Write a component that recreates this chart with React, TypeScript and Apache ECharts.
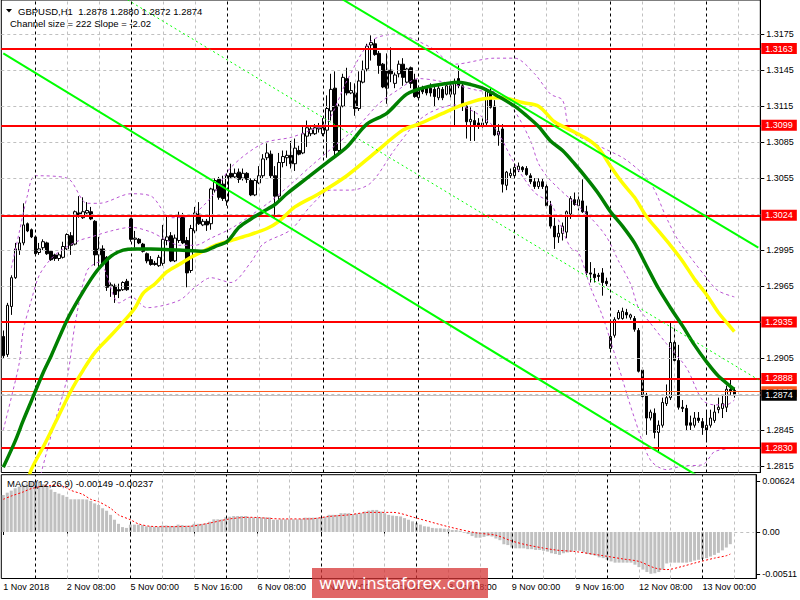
import React, { useEffect, useRef } from "react";
import * as echarts from "echarts";

// ---------- DATA ----------
const opens = [
  1.2923, 1.2908, 1.2948, 1.2972, 1.2995, 1.3001, 1.3017, 1.3012, 1.3006, 1.2993,
  1.2997, 1.3001, 1.2994, 1.2991, 1.2988, 1.2989, 1.2996, 1.3007, 1.3000, 1.3026,
  1.3022, 1.3026, 1.3027, 1.3019, 1.2991, 1.2996, 1.2989, 1.2965, 1.2965, 1.2962,
  1.2962, 1.2969, 1.3021, 1.3004, 1.3004, 1.3000, 1.2992, 1.2987, 1.2984, 1.2982,
  1.2984, 1.3003, 1.3007, 1.2986, 1.3003, 1.3023, 1.3003, 1.2978, 1.3011, 1.3025,
  1.3016, 1.3019, 1.3017, 1.3045, 1.3054, 1.3050, 1.3036, 1.3059, 1.3056, 1.3060,
  1.3055, 1.3059, 1.3053, 1.3041, 1.3051, 1.3057, 1.3072, 1.3075, 1.3057, 1.3040,
  1.3068, 1.3072, 1.3074, 1.3067, 1.3078, 1.3076, 1.3090, 1.3092, 1.3092, 1.3096,
  1.3092, 1.3095, 1.3111, 1.3130, 1.3078, 1.3115, 1.3138, 1.3126, 1.3126, 1.3113,
  1.3135, 1.3146, 1.3166, 1.3167, 1.3159, 1.3150, 1.3145, 1.3145, 1.3134, 1.3142,
  1.3150, 1.3135, 1.3147, 1.3137, 1.3122, 1.3130, 1.3130, 1.3130, 1.3129, 1.3122,
  1.3129, 1.3125, 1.3132, 1.3125, 1.3138, 1.3132, 1.3115, 1.3102, 1.3103, 1.3101,
  1.3098, 1.3101, 1.3127, 1.3115, 1.3091, 1.3096, 1.3049, 1.3057, 1.3057, 1.3062,
  1.3064, 1.3063, 1.3057, 1.3052, 1.3048, 1.3052, 1.3048, 1.3032, 1.3015, 1.3006,
  1.3009, 1.3010, 1.3025, 1.3037, 1.3032, 1.3036, 1.3027, 1.2976, 1.2975, 1.2974,
  1.2976, 1.2969, 1.2913, 1.2924, 1.2938, 1.2938, 1.2943, 1.2939, 1.2938, 1.2928,
  1.2895, 1.2874, 1.2855, 1.2859, 1.2843, 1.2849, 1.2867, 1.2872, 1.2918, 1.2903,
  1.2864, 1.2863, 1.2851, 1.2849, 1.2855, 1.2852, 1.2845, 1.2849, 1.2853, 1.2862,
  1.2863, 1.2864, 1.2879, 1.2878,
];
const highs = [
  1.2928, 1.2951, 1.2974, 1.3001, 1.3006, 1.3034, 1.3018, 1.3013, 1.3007, 1.3001,
  1.3004, 1.3002, 1.2995, 1.2992, 1.2993, 1.3002, 1.3009, 1.3010, 1.3028, 1.3040,
  1.3039, 1.3035, 1.3031, 1.3020, 1.3006, 1.2999, 1.2990, 1.2968, 1.2967, 1.2967,
  1.2969, 1.2971, 1.3022, 1.3011, 1.3005, 1.3001, 1.2993, 1.2990, 1.2986, 1.2991,
  1.3016, 1.3024, 1.3010, 1.3008, 1.3027, 1.3026, 1.3006, 1.3016, 1.3031, 1.3035,
  1.3021, 1.3021, 1.3047, 1.3055, 1.3056, 1.3057, 1.3059, 1.3067, 1.3063, 1.3063,
  1.3063, 1.3060, 1.3055, 1.3055, 1.3065, 1.3075, 1.3084, 1.3078, 1.3065, 1.3076,
  1.3078, 1.3078, 1.3086, 1.3088, 1.3082, 1.3098, 1.3103, 1.3099, 1.3100, 1.3101,
  1.3105, 1.3124, 1.3142, 1.3144, 1.3117, 1.3142, 1.3147, 1.3135, 1.3134, 1.3144,
  1.3153, 1.3167, 1.3174, 1.3171, 1.3161, 1.3151, 1.3159, 1.3164, 1.3143, 1.3153,
  1.3155, 1.3147, 1.3148, 1.3142, 1.3132, 1.3132, 1.3131, 1.3134, 1.3132, 1.3134,
  1.3131, 1.3134, 1.3136, 1.3138, 1.3149, 1.3136, 1.3117, 1.3114, 1.3111, 1.3105,
  1.3105, 1.3130, 1.3130, 1.3120, 1.3100, 1.3100, 1.3061, 1.3063, 1.3067, 1.3068,
  1.3065, 1.3065, 1.3059, 1.3055, 1.3055, 1.3055, 1.3050, 1.3036, 1.3022, 1.3016,
  1.3018, 1.3028, 1.3040, 1.3043, 1.3043, 1.3054, 1.3032, 1.2985, 1.2980, 1.2976,
  1.2980, 1.2972, 1.2937, 1.2939, 1.2945, 1.2947, 1.2946, 1.2942, 1.2940, 1.2930,
  1.2897, 1.2876, 1.2862, 1.2863, 1.2853, 1.2872, 1.2883, 1.2935, 1.2932, 1.2916,
  1.2870, 1.2866, 1.2857, 1.2860, 1.2860, 1.2855, 1.2860, 1.2862, 1.2866, 1.2872,
  1.2874, 1.2882, 1.2888, 1.2880,
];
const lows = [
  1.2905, 1.2906, 1.2941, 1.2971, 1.2991, 1.2999, 1.3010, 1.3005, 1.2991, 1.2991,
  1.2995, 1.2991, 1.2986, 1.2986, 1.2986, 1.2988, 1.2995, 1.2991, 1.2999, 1.3022,
  1.3021, 1.3025, 1.3020, 1.2982, 1.2981, 1.2982, 1.2961, 1.2956, 1.2951, 1.2955,
  1.2961, 1.2961, 1.3002, 1.2997, 1.3000, 1.2993, 1.2984, 1.2982, 1.2982, 1.2981,
  1.2982, 1.2999, 1.2985, 1.2985, 1.3001, 1.3000, 1.2964, 1.2976, 1.3009, 1.3016,
  1.3015, 1.3011, 1.3012, 1.3043, 1.3037, 1.3036, 1.3032, 1.3055, 1.3055, 1.3051,
  1.3053, 1.3051, 1.3040, 1.3040, 1.3050, 1.3055, 1.3070, 1.3055, 1.3021, 1.3036,
  1.3064, 1.3065, 1.3063, 1.3061, 1.3074, 1.3075, 1.3081, 1.3090, 1.3091, 1.3093,
  1.3090, 1.3072, 1.3103, 1.3072, 1.3074, 1.3114, 1.3124, 1.3125, 1.3107, 1.3111,
  1.3134, 1.3144, 1.3153, 1.3157, 1.3142, 1.3130, 1.3117, 1.3135, 1.3130, 1.3139,
  1.3132, 1.3134, 1.3130, 1.3122, 1.3120, 1.3125, 1.3124, 1.3123, 1.3115, 1.3120,
  1.3120, 1.3124, 1.3122, 1.3098, 1.3130, 1.3111, 1.3088, 1.3086, 1.3086, 1.3096,
  1.3095, 1.3099, 1.3113, 1.3090, 1.3082, 1.3043, 1.3045, 1.3055, 1.3055, 1.3060,
  1.3060, 1.3057, 1.3050, 1.3046, 1.3046, 1.3046, 1.3030, 1.3013, 1.2996, 1.3001,
  1.3003, 1.3005, 1.3021, 1.3032, 1.3028, 1.3026, 1.2974, 1.2968, 1.2968, 1.2969,
  1.2957, 1.2965, 1.2912, 1.2922, 1.2937, 1.2937, 1.2938, 1.2937, 1.2927, 1.2893,
  1.2872, 1.2841, 1.2853, 1.2838, 1.2826, 1.2847, 1.2865, 1.2870, 1.2902, 1.2862,
  1.2860, 1.2845, 1.2845, 1.2847, 1.2851, 1.2841, 1.2835, 1.2847, 1.2851, 1.2859,
  1.2855, 1.2860, 1.2874, 1.2872,
];
const closes = [
  1.2907, 1.2949, 1.2972, 1.2996, 1.3001, 1.3016, 1.3011, 1.3006, 1.2992, 1.2996,
  1.3002, 1.2992, 1.2987, 1.2988, 1.2991, 1.2998, 1.3008, 1.2999, 1.3027, 1.3024,
  1.3027, 1.3028, 1.3021, 1.2991, 1.2996, 1.2984, 1.2964, 1.2966, 1.2958, 1.2961,
  1.2968, 1.2962, 1.3004, 1.3005, 1.3001, 1.2994, 1.2986, 1.2983, 1.2983, 1.2989,
  1.3004, 1.3006, 1.2986, 1.3005, 1.3024, 1.3001, 1.2976, 1.3013, 1.3026, 1.3017,
  1.3019, 1.3016, 1.3046, 1.3053, 1.3039, 1.3038, 1.3057, 1.3056, 1.3059, 1.3054,
  1.3059, 1.3054, 1.3041, 1.3053, 1.3057, 1.3071, 1.3076, 1.3057, 1.3040, 1.3068,
  1.3073, 1.3074, 1.3067, 1.3080, 1.3075, 1.3092, 1.3097, 1.3096, 1.3097, 1.3097,
  1.3097, 1.3113, 1.3129, 1.3078, 1.3115, 1.3139, 1.3126, 1.3128, 1.3113, 1.3136,
  1.3145, 1.3165, 1.3168, 1.3158, 1.3149, 1.3131, 1.3130, 1.3142, 1.3141, 1.3150,
  1.3139, 1.3146, 1.3134, 1.3123, 1.3130, 1.3127, 1.3126, 1.3126, 1.3123, 1.3130,
  1.3122, 1.3132, 1.3125, 1.3134, 1.3132, 1.3115, 1.3102, 1.3104, 1.3099, 1.3098,
  1.3101, 1.3128, 1.3114, 1.3091, 1.3094, 1.3050, 1.3060, 1.3059, 1.3064, 1.3065,
  1.3062, 1.3058, 1.3052, 1.3048, 1.3052, 1.3048, 1.3032, 1.3015, 1.3006, 1.3009,
  1.3015, 1.3027, 1.3038, 1.3033, 1.3037, 1.3027, 1.2976, 1.2975, 1.2972, 1.2973,
  1.2968, 1.2967, 1.2923, 1.2937, 1.2943, 1.2944, 1.2941, 1.2941, 1.2929, 1.2894,
  1.2873, 1.2855, 1.2860, 1.2843, 1.2849, 1.2868, 1.2872, 1.2918, 1.2903, 1.2864,
  1.2863, 1.2849, 1.2849, 1.2855, 1.2853, 1.2847, 1.2849, 1.2855, 1.2860, 1.2864,
  1.2867, 1.2879, 1.2877, 1.2874,
];

// moving averages and bands, read as [bar index, price]
const maGreen = [
  [0, 1.2814], [3, 1.2836], [5, 1.2853], [7, 1.2869], [10, 1.2893], [12, 1.2907], [16, 1.2937],
  [19, 1.2955], [22, 1.2971], [24, 1.2980], [27, 1.2990], [30, 1.2995], [33, 1.2996], [37, 1.2996],
  [44, 1.2995], [50, 1.2994], [53, 1.2998], [56, 1.3002], [59, 1.3014], [62, 1.3021], [65, 1.3027],
  [68, 1.3033], [71, 1.3042], [76, 1.3055], [81, 1.3068], [86, 1.3081], [91, 1.3100], [96, 1.3109],
  [101, 1.3125], [106, 1.3131], [111, 1.3134], [114, 1.3135], [117, 1.3133], [120, 1.3130],
  [124, 1.3123], [128, 1.3115], [131, 1.3107], [134, 1.3098], [137, 1.3086], [140, 1.3078],
  [143, 1.3067], [146, 1.3055], [149, 1.3042], [152, 1.3027], [155, 1.3015], [158, 1.3001],
  [161, 1.2982], [164, 1.2963], [167, 1.2947], [170, 1.2932], [173, 1.2916], [176, 1.2902],
  [179, 1.2890], [183, 1.2879],
];
const maYellow = [
  [6, 1.2800], [7, 1.2812], [10, 1.2831], [13, 1.2851], [17, 1.2878], [20, 1.2895], [23, 1.2910],
  [27, 1.2924], [30, 1.2935], [33, 1.2947], [35, 1.2959], [38, 1.2967], [41, 1.2977], [44, 1.2983],
  [47, 1.2989], [50, 1.2994], [53, 1.2999], [57, 1.3003], [61, 1.3007], [66, 1.3013], [69, 1.3019],
  [73, 1.3031], [79, 1.3042], [86, 1.3057], [93, 1.3076], [100, 1.3095], [104, 1.3100],
  [110, 1.3109], [115, 1.3116], [120, 1.3121], [125, 1.3122], [130, 1.3118], [134, 1.3115],
  [138, 1.3102], [142, 1.3095], [146, 1.3088], [149, 1.3080], [152, 1.3065], [155, 1.3051],
  [158, 1.3039], [161, 1.3023], [164, 1.3011], [167, 1.2999], [170, 1.2986], [173, 1.2971],
  [176, 1.2958], [179, 1.2943], [182, 1.2931], [183, 1.2927],
];
const bbUpper = [
  [2, 1.2980], [4, 1.3010], [6, 1.3040], [8, 1.3057], [16, 1.3055], [21, 1.3034], [24, 1.3034],
  [32, 1.3042], [37, 1.3040], [42, 1.3022], [47, 1.3024], [52, 1.3039], [57, 1.3064], [65, 1.3084],
  [72, 1.3089], [77, 1.3095], [81, 1.3101], [86, 1.3136], [92, 1.3169], [98, 1.3175], [107, 1.3164],
  [113, 1.3150], [123, 1.3155], [128, 1.3155], [133, 1.3142], [137, 1.3125], [140, 1.3120],
  [142, 1.3095], [149, 1.3082], [156, 1.3070], [162, 1.3051], [166, 1.3022], [169, 1.3003],
  [176, 1.2972], [179, 1.2961], [183, 1.2956],
];
const bbMiddle = [
  [0, 1.2845], [2, 1.2872], [4, 1.2901], [5, 1.2928], [7, 1.2953], [9, 1.2974], [12, 1.2988],
  [15, 1.2996], [19, 1.3003], [22, 1.3006], [27, 1.3011], [32, 1.3014], [37, 1.3010], [41, 1.3003],
  [44, 1.2999], [48, 1.2999], [52, 1.3005], [57, 1.3013], [62, 1.3024], [67, 1.3036], [72, 1.3050],
  [77, 1.3065], [83, 1.3082], [89, 1.3099], [94, 1.3117], [99, 1.3129], [104, 1.3138], [109, 1.3136],
  [114, 1.3132], [119, 1.3128], [124, 1.3126], [128, 1.3111], [132, 1.3086], [134, 1.3067],
  [137, 1.3053], [147, 1.3022], [151, 1.3006], [154, 1.2986], [157, 1.2967], [159, 1.2947],
  [162, 1.2934], [166, 1.2917], [171, 1.2897], [175, 1.2870], [178, 1.2866], [181, 1.2866],
  [183, 1.2870],
];
const bbLower = [
  [9, 1.2803], [12, 1.2841], [16, 1.2889], [18, 1.2934], [21, 1.2978], [24, 1.2985], [29, 1.2951],
  [32, 1.2956], [36, 1.2947], [44, 1.2953], [48, 1.2964], [52, 1.2972], [57, 1.2968], [62, 1.2985],
  [65, 1.3000], [72, 1.3012], [77, 1.3032], [82, 1.3045], [87, 1.3045], [92, 1.3051], [98, 1.3079],
  [103, 1.3100], [107, 1.3110], [113, 1.3116], [118, 1.3110], [123, 1.3097], [128, 1.3067],
  [133, 1.3043], [137, 1.3034], [139, 1.3020], [142, 1.2997], [144, 1.2993], [147, 1.2964],
  [150, 1.2940], [154, 1.2898], [158, 1.2855], [162, 1.2820], [166, 1.2812], [170, 1.2815],
  [175, 1.2816], [177, 1.2823], [178, 1.2827], [182, 1.2830], [183, 1.2831],
];
// regression channel: [bar index, price] at both ends
const channelUpper = [[0, 1.3373], [189, 1.2997]];
const channelMiddle = [[0, 1.3266], [189, 1.2887]];
const channelLower = [[0, 1.3159], [189, 1.2776]];

const levelPrices = [1.3163, 1.3099, 1.3024, 1.2935, 1.2888, 1.2830];
const bidPrice = 1.2874;
const askPrice = 1.2877;

const macdHist = [
  0.00453, 0.00481, 0.00506, 0.00535, 0.00555, 0.00579, 0.00596, 0.0061, 0.00624, 0.0062,
  0.00585, 0.0055, 0.0052, 0.0049, 0.0047, 0.0045, 0.0043, 0.004, 0.004, 0.004,
  0.004, 0.00398, 0.0038, 0.0035, 0.0033, 0.0029, 0.0026, 0.0021, 0.0015, 0.001,
  0.0006, 0.0005, 0.0009, 0.0009, 0.0009, 0.00085, 0.0007, 0.0007, 0.00065, 0.00065,
  0.0008, 0.0008, 0.00075, 0.00075, 0.0009, 0.00085, 0.00078, 0.00078, 0.001, 0.001,
  0.001, 0.00106, 0.00126, 0.00155, 0.00155, 0.00155, 0.0018, 0.00187, 0.00195, 0.00195,
  0.00195, 0.00195, 0.0018, 0.00178, 0.00178, 0.00178, 0.00178, 0.00178, 0.0015, 0.0015,
  0.00155, 0.00155, 0.00155, 0.00155, 0.00155, 0.0016, 0.00175, 0.00175, 0.00175, 0.00175,
  0.00175, 0.00187, 0.0021, 0.0021, 0.0021, 0.0023, 0.0023, 0.0023, 0.0022, 0.00225,
  0.0023, 0.0025, 0.00262, 0.0027, 0.0027, 0.0025, 0.0023, 0.0021, 0.002, 0.00195,
  0.0019, 0.0017, 0.0015, 0.0013, 0.0011, 0.0009, 0.0007, 0.00065, 0.0005, 0.00045,
  0.00045, 0.0004, 0.00035, 0.00025, 0.00025, 0.00016, -0.0001, -0.00025, -0.0005, -0.0007,
  -0.0007, -0.0006, -0.0005, -0.00055, -0.0008, -0.001, -0.0015, -0.0016, -0.0019, -0.002,
  -0.002, -0.002, -0.0021, -0.0021, -0.0022, -0.0022, -0.0023, -0.0024, -0.0026, -0.0027,
  -0.0028, -0.0026, -0.0025, -0.0024, -0.0023, -0.0023, -0.0025, -0.0027, -0.0028, -0.0029,
  -0.0031, -0.0032, -0.0034, -0.0036, -0.00375, -0.00375, -0.00375, -0.00375, -0.00375, -0.004,
  -0.0043, -0.0046, -0.0049, -0.00511, -0.00505, -0.0049, -0.0046, -0.00385, -0.00375, -0.00375,
  -0.00375, -0.00375, -0.00375, -0.00365, -0.0035, -0.0034, -0.0033, -0.0032, -0.003, -0.0028,
  -0.00255, -0.00225, -0.0019, -0.00149,
];
const macdSignal = [
  [0, 0.004], [2, 0.0044], [5, 0.0049], [7, 0.0053], [10, 0.0056], [12, 0.0057], [15, 0.0056],
  [17, 0.0051], [20, 0.0046], [22, 0.004], [24, 0.0037], [27, 0.0029], [29, 0.0021], [32, 0.0015],
  [34, 0.001], [37, 0.0007], [41, 0.00065], [47, 0.0007], [52, 0.0011], [57, 0.0016], [62, 0.0018],
  [70, 0.0016], [77, 0.0016], [82, 0.0019], [87, 0.0021], [92, 0.0024], [98, 0.0024], [104, 0.0017],
  [112, 0.00065], [119, -0.0001], [124, -0.0004], [128, -0.0011], [132, -0.0016], [139, -0.0022],
  [144, -0.0024], [151, -0.0029], [156, -0.0033], [160, -0.0036], [164, -0.0044], [167, -0.0046],
  [171, -0.0042], [174, -0.0038], [179, -0.0032], [182, -0.0029], [183, -0.0027],
];
const macdLastMain = -0.00149;
const macdLastSignal = -0.00237;

const priceTickLabels = [1.2815, 1.2845, 1.2905, 1.2965, 1.2995, 1.3055, 1.3085, 1.3115, 1.3145, 1.3175];
const priceGridLines = [1.2815, 1.2845, 1.2875, 1.2905, 1.2935, 1.2965, 1.2995, 1.3025, 1.3055, 1.3085, 1.3115, 1.3145, 1.3175];
const macdTickLabels = [0.00624, 0, -0.00511];
const timeTickLabels = [
  [0, "1 Nov 2018"], [16, "2 Nov 08:00"], [32, "5 Nov 00:00"], [48, "5 Nov 16:00"],
  [64, "6 Nov 08:00"], [80, "7 Nov 00:00"], [96, "7 Nov 16:00"], [112, "8 Nov 08:00"],
  [128, "9 Nov 00:00"], [144, "9 Nov 16:00"], [160, "12 Nov 08:00"], [176, "13 Nov 00:00"],
];
const daySeparators = [8, 32, 56, 80, 104, 128, 152, 176];
const gridBars = [16, 24, 40, 48, 64, 72, 88, 96, 112, 120, 136, 144, 160, 168, 184];
const SLOTS = 190;

// ---------- LAYOUT ----------
const Y_MAX = 1.32035;
const Y_MIN = 1.28096;
const M_MAX = 0.00701;
const M_MIN = -0.00569;
const FONT = "Liberation Sans";

export default function App() {
  const ref = useRef<HTMLDivElement>(null);
  useEffect(() => {
    document.body.style.margin = "0";
    const chart = echarts.init(ref.current!, undefined, { renderer: "svg", width: 800, height: 600 });
    const cats = Array.from({ length: SLOTS }, (_, i) => String(i));
    const labelMap = new Map<number, string>(timeTickLabels.map((t) => [t[0] as number, t[1] as string]));
    const candleData = opens.map((o, i) => [o, closes[i], lows[i], highs[i]]);
    const last = opens.length - 1;

    const greyDash = { color: "#c0c0c0", type: [3, 3], width: 1 };
    const blackDash = { color: "#000", type: [3, 3], width: 1 };

    const gridMarkLine = (withH: boolean) => ({
      silent: true,
      symbol: ["none", "none"],
      animation: false,
      precision: 6,
      label: { show: false },
      data: [
        ...(withH ? priceGridLines.map((p) => ({ yAxis: p, lineStyle: greyDash })) : []),
        ...gridBars.map((b) => ({ xAxis: b, lineStyle: greyDash })),
        ...daySeparators.map((b) => ({ xAxis: b, lineStyle: blackDash })),
      ],
    });

    const levelLabel = (txt: string, bg: string) => ({
      show: true,
      position: "end",
      distance: 1,
      formatter: txt,
      backgroundColor: bg,
      color: "#fff",
      fontSize: 9,
      fontFamily: FONT,
      lineHeight: 10,
      padding: [1, 4, 0, 4],
    });

    const lineSeries = (name: string, data: number[][], color: string, width: number, type: any, z: number, smooth: number | boolean = 0.3) => ({
      name,
      type: "line",
      xAxisIndex: 0,
      yAxisIndex: 0,
      data,
      symbol: "none",
      smooth,
      clip: true,
      z,
      lineStyle: { color, width, type },
      silent: true,
    });

    const option: any = {
      animation: false,
      backgroundColor: "#fff",
      grid: [
        { left: 1.3, top: -1, width: 759, height: 473.5, show: true, borderColor: "#000", borderWidth: 1, backgroundColor: "transparent" },
        { left: 1.3, top: 474.7, width: 759, height: 103.8, show: true, borderColor: "#000", borderWidth: 1, backgroundColor: "transparent" },
      ],
      xAxis: [
        {
          type: "category", gridIndex: 0, data: cats, boundaryGap: true,
          axisLine: { show: false }, axisTick: { show: false }, axisLabel: { show: false }, splitLine: { show: false },
        },
        {
          type: "category", gridIndex: 1, data: cats, boundaryGap: true,
          axisLine: { show: false },
          axisTick: { show: true, alignWithLabel: true, length: 3, interval: (i: number) => labelMap.has(i), lineStyle: { color: "#000" } },
          axisLabel: {
            interval: (i: number) => labelMap.has(i),
            formatter: (_v: string, i: number) => labelMap.get(i) ?? "",
            align: "left", margin: 4, fontSize: 9, fontFamily: FONT, color: "#000",
          },
          splitLine: { show: false },
        },
      ],
      yAxis: [
        {
          type: "value", gridIndex: 0, position: "right", min: Y_MIN, max: Y_MAX,
          axisLine: { show: true, lineStyle: { color: "#000" } },
          axisTick: { show: true, length: 4, customValues: priceTickLabels, lineStyle: { color: "#000" } },
          axisLabel: { customValues: priceTickLabels, formatter: (v: number) => v.toFixed(4), margin: 6, fontSize: 9, fontFamily: FONT, color: "#000" },
          splitLine: { show: false },
        },
        {
          type: "value", gridIndex: 1, position: "right", min: M_MIN, max: M_MAX,
          axisLine: { show: true, lineStyle: { color: "#000" } },
          axisTick: { show: true, length: 4, customValues: macdTickLabels, lineStyle: { color: "#000" } },
          axisLabel: {
            customValues: macdTickLabels,
            formatter: (v: number) => (Math.abs(v) < 1e-9 ? "0.00" : v.toFixed(5)),
            margin: 6, fontSize: 9, fontFamily: FONT, color: "#000",
          },
          splitLine: { show: false },
        },
      ],
      series: [
        { type: "line", xAxisIndex: 0, yAxisIndex: 0, data: [], z: 1, silent: true, markLine: gridMarkLine(true) },
        { type: "line", xAxisIndex: 1, yAxisIndex: 1, data: [], z: 1, silent: true, markLine: gridMarkLine(false) },
        {
          name: "GBPUSD", type: "candlestick", xAxisIndex: 0, yAxisIndex: 0, data: candleData, barWidth: 3, z: 3, silent: true,
          itemStyle: { color: "#ffffff", color0: "#000000", borderColor: "#000000", borderColor0: "#000000", borderWidth: 1 },
        },
        lineSeries("BB upper", bbUpper, "#ba55d3", 1, [3, 3], 4),
        lineSeries("BB middle", bbMiddle, "#ba55d3", 1, [3, 3], 4),
        lineSeries("BB lower", bbLower, "#ba55d3", 1, [3, 3], 4),
        lineSeries("MA yellow", maYellow, "#ffff00", 3.5, "solid", 5),
        lineSeries("MA green", maGreen, "#008000", 3.5, "solid", 6),
        lineSeries("Channel upper", channelUpper, "#00ff00", 2, "solid", 7, false),
        lineSeries("Channel middle", channelMiddle, "#00ff00", 1, [2, 3], 7, false),
        lineSeries("Channel lower", channelLower, "#00ff00", 2, "solid", 7, false),
        {
          type: "line", xAxisIndex: 0, yAxisIndex: 0, data: [], z: 8, silent: true,
          markLine: {
            silent: true, symbol: ["none", "none"], animation: false, precision: 6,
            data: [
              ...levelPrices.map((p) => ({
                yAxis: p, lineStyle: { color: "#ff0000", width: 2, type: "solid" },
                label: levelLabel(p.toFixed(4), "#ff0000"),
              })),
              { yAxis: askPrice, lineStyle: { color: "#ff5a1f", width: 1, type: "solid" }, label: levelLabel(askPrice.toFixed(4), "#ff5a1f") },
              { yAxis: bidPrice, lineStyle: { color: "#c0c0c0", width: 1, type: "solid" }, label: levelLabel(bidPrice.toFixed(4), "#000000") },
            ],
          },
        },
        {
          name: "MACD", type: "bar", xAxisIndex: 1, yAxisIndex: 1, data: macdHist, barWidth: 3, z: 3, silent: true,
          itemStyle: { color: "#c0c0c0" },
          markLine: {
            silent: true, symbol: ["none", "none"], animation: false, precision: 6, label: { show: false },
            data: [[{ coord: [184, 0] }, { coord: [189, 0] }]],
            lineStyle: { color: "#c0c0c0", type: [3, 3], width: 1 },
          },
        },
        {
          name: "Signal", type: "line", xAxisIndex: 1, yAxisIndex: 1, data: macdSignal, symbol: "none", smooth: 0.3, z: 4, silent: true,
          lineStyle: { color: "#ff0000", width: 1, type: [2, 2] },
        },
      ],
      graphic: [
        { type: "polygon", shape: { points: [[6, 9], [12, 9], [9, 12.5]] }, style: { fill: "#000" }, z: 100 },
        {
          type: "text", x: 18, y: 11, z: 100,
          style: {
            text: `GBPUSD,H1  ${opens[last].toFixed(4)} ${highs[last].toFixed(4)} ${lows[last].toFixed(4)} ${closes[last].toFixed(4)}`,
            fontSize: 9.5, fontFamily: FONT, fill: "#000", verticalAlign: "middle",
          },
        },
        {
          type: "text", x: 10, y: 23.5, z: 100,
          style: { text: "Channel size = 222 Slope = -2.02", fontSize: 9.5, fontFamily: FONT, fill: "#000", verticalAlign: "middle" },
        },
        {
          type: "text", x: 7, y: 483.5, z: 100,
          style: {
            text: `MACD(12,26,9) ${macdLastMain.toFixed(5)} ${macdLastSignal.toFixed(5)}`,
            fontSize: 9.5, fontFamily: FONT, fill: "#000", verticalAlign: "middle",
          },
        },
        { type: "rect", shape: { x: 312, y: 568, width: 176, height: 30 }, style: { fill: "rgba(214,52,52,0.75)" }, z: 200 },
        {
          type: "text", x: 400, y: 583.5, z: 201,
          style: { text: "www.instaforex.com", fontSize: 16, fontFamily: "DejaVu Sans", fill: "#fff", align: "center", verticalAlign: "middle" },
        },
      ],
    };
    chart.setOption(option);
    return () => chart.dispose();
  }, []);
  return <div ref={ref} style={{ width: 800, height: 600, position: "absolute", left: 0, top: 0, background: "#fff" }} />;
}
